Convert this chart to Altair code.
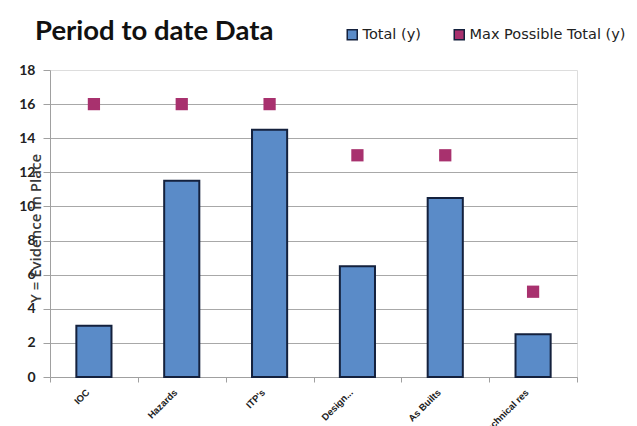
import altair as alt
import pandas as pd

categories = ["IOC", "Hazards", "ITP's", "Design...", "As Builts", "Technical res"]
total = [3, 11.5, 14.5, 6.5, 10.5, 2.5]
max_possible = [16, 16, 16, 13, 13, 5]
series_names = ["Total (y)", "Max Possible Total (y)"]
y_ticks = [0, 2, 4, 6, 8, 10, 12, 14, 16, 18]

rows = []
for c, t, m in zip(categories, total, max_possible):
    rows.append({"cat": c, "series": series_names[0], "value": t})
    rows.append({"cat": c, "series": series_names[1], "value": m})
df = pd.DataFrame(rows)

color = alt.Color(
    "series:N",
    scale=alt.Scale(domain=series_names, range=["#5a8bc8", "#a8316e"]),
    legend=alt.Legend(
        title=None, orient="none", direction="horizontal",
        legendX=295, legendY=-43, symbolType="square", symbolSize=100,
        labelFontSize=14.5, labelColor="#222222", labelFont="DejaVu Sans",
        columnPadding=30, labelOffset=3, symbolStrokeWidth=1.5,
    ),
)

x = alt.X(
    "cat:N", sort=categories, title=None,
    scale=alt.Scale(paddingInner=0, paddingOuter=0),
    axis=alt.Axis(
        labelAngle=-45, labelAlign="right", labelBaseline="top",
        labelFontSize=9.5, labelFontWeight="bold", labelColor="#222222",
        labelPadding=5, labelOffset=-10, tickBand="extent", tickSize=5,
        tickColor="#a0a0a0", domainColor="#a0a0a0", grid=False,
        labelFont="Liberation Sans",
    ),
)

y = alt.Y(
    "value:Q", title="Y = Evidence in Place",
    scale=alt.Scale(domain=[0, 18], nice=False),
    axis=alt.Axis(
        values=y_ticks, labelFontSize=14, labelFontWeight="bold",
        labelColor="#222222", labelPadding=8, tickSize=7,
        tickColor="#a0a0a0", domainColor="#a0a0a0",
        gridColor="#a8a8a8",
        gridOpacity={"condition": {"test": "datum.value === 18", "value": 0}, "value": 1},
        titleX=-15, titleY=158, titleAngle=-90, titleAlign="center",
        titleBaseline="middle", titleFontSize=15, titleFontWeight=600,
        titleColor="#3a3a3a", titleFont="Open Sans", labelFont="Lato",
    ),
)

bars = alt.Chart(df).transform_filter(
    alt.datum.series == series_names[0]
).mark_bar(
    width=alt.RelativeBandSize(0.4), stroke="#14213d", strokeWidth=2
).encode(x=x, y=y, color=color)

points = alt.Chart(df).transform_filter(
    alt.datum.series == series_names[1]
).mark_square(size=150, opacity=1, filled=True).encode(x=x, y=y, color=color)

chart = alt.layer(bars, points).properties(
    width=527, height=307,
    autosize=alt.AutoSizeParams(type="none"),
    padding={"left": 50, "top": 70, "right": 60, "bottom": 49},
    title=alt.TitleParams(
        "Period to date Data", anchor="start", frame="group", dx=-15,
        dy=18, offset=0, fontSize=27.5, fontWeight="bold", font="Lato",
        color="#111111",
    ),
).configure_view(stroke=None).configure(background="white")

chart.save("out.html", embed_options={"renderer": "svg", "actions": False})
